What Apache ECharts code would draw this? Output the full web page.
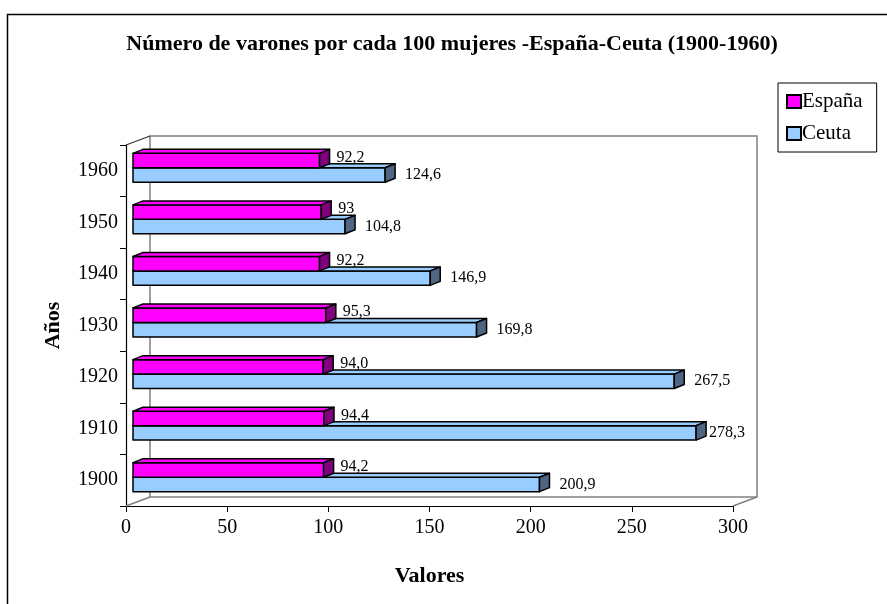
<!DOCTYPE html>
<html>
<head>
<meta charset="utf-8">
<script src="https://cdn.jsdelivr.net/npm/echarts@6/dist/echarts.min.js"></script>
<style>html,body{margin:0;padding:0;background:#fff;}#c{width:887px;height:604px;}</style>
</head>
<body>
<div id="c"></div>
<script>
const years = ['1900', '1910', '1920', '1930', '1940', '1950', '1960'];
const espana = [94.2, 94.4, 94.0, 95.3, 92.2, 93, 92.2];
const ceuta = [200.9, 278.3, 267.5, 169.8, 146.9, 104.8, 124.6];
const espanaLabels = ['94,2', '94,4', '94,0', '95,3', '92,2', '93', '92,2'];
const ceutaLabels = ['200,9', '278,3', '267,5', '169,8', '146,9', '104,8', '124,6'];

const FONT = '"Liberation Serif", "Times New Roman", serif';
const chart = echarts.init(document.getElementById('c'));

function makeRender(pos, front, side, top, labels) {
  return function (params, api) {
    const idx = params.dataIndex;
    const v = api.value(0), c = api.value(1);
    const base = api.coord([0, c]);
    const end = api.coord([v, c]);
    const band = api.size([0, 1])[1];
    const cs = params.coordSys;
    const dx = 7, dy = -3, d = 10, dh = 4;
    const H = band * 0.28;
    const cy = base[1] + dy;
    const y0 = pos === 0 ? cy - H : cy;
    const x0 = base[0] + dx, x1 = end[0] + dx;
    const st = { stroke: '#000', lineWidth: 1.5, lineJoin: 'round' };
    let tx, ty;
    if (pos === 0) { tx = x1 + d + 7; ty = y0 + H / 2 - 3; }
    else { tx = Math.min(x1 + d + 10, cs.x + cs.width - 24); ty = y0 + H / 2; }
    return {
      type: 'group',
      children: [
        { type: 'rect', shape: { x: x0, y: y0, width: x1 - x0, height: H }, style: Object.assign({ fill: front }, st) },
        { type: 'polygon', shape: { points: [[x0, y0], [x1, y0], [x1 + d, y0 - dh], [x0 + d, y0 - dh]] }, style: Object.assign({ fill: top }, st) },
        { type: 'polygon', shape: { points: [[x1, y0], [x1 + d, y0 - dh], [x1 + d, y0 + H - dh], [x1, y0 + H]] }, style: Object.assign({ fill: side }, st) },
        { type: 'text', x: tx, y: ty, style: { text: labels[idx], font: '16px ' + FONT, fill: '#000', textAlign: 'left', textVerticalAlign: 'middle' } }
      ]
    };
  };
}

function renderWall(params, api) {
  const cs = params.coordSys;
  const L = cs.x, T = cs.y, R = cs.x + cs.width, B = cs.y + cs.height;
  const ox = 24, oy = -9;
  const g = { stroke: '#808080', lineWidth: 1.5, fill: null };
  return {
    type: 'group',
    children: [
      { type: 'polyline', shape: { points: [[L + ox, B + oy], [L + ox, T + oy], [R + ox, T + oy], [R + ox, B + oy], [R, B]] }, style: g },
      { type: 'line', shape: { x1: L + ox, y1: B + oy, x2: R + ox, y2: B + oy }, style: g },
      { type: 'line', shape: { x1: L, y1: B, x2: L + ox, y2: B + oy }, style: g },
      { type: 'line', shape: { x1: L, y1: T, x2: L + ox, y2: T + oy }, style: { stroke: '#333', lineWidth: 1.2 } }
    ]
  };
}

const option = {
  backgroundColor: '#fff',
  animation: false,
  graphic: [
    { type: 'rect', shape: { x: 7.5, y: 14.5, width: 900, height: 620 }, style: { fill: null, stroke: '#000', lineWidth: 1.5 }, z: -10 },
    { type: 'text', x: 452, y: 44, style: { text: 'Número de varones por cada 100 mujeres -España-Ceuta (1900-1960)', font: 'bold 22px ' + FONT, fill: '#000', textAlign: 'center', textVerticalAlign: 'middle' } }
  ],
  legend: {
    data: ['España', 'Ceuta'],
    orient: 'vertical',
    left: 778, top: 83,
    itemWidth: 14, itemHeight: 13, itemGap: 11,
    padding: [8, 14, 8, 8],
    borderColor: '#000', borderWidth: 1,
    icon: 'rect',
    textStyle: { fontFamily: FONT, fontSize: 21, color: '#000', padding: [0, 0, 0, -4] }
  },
  grid: { left: 126, right: 154, top: 145, bottom: 98, containLabel: false },
  xAxis: {
    type: 'value', min: 0, max: 300, interval: 50,
    name: 'Valores', nameLocation: 'middle', nameGap: 59,
    nameTextStyle: { fontFamily: FONT, fontSize: 22, fontWeight: 'bold', color: '#000' },
    axisLine: { show: true, lineStyle: { color: '#000', width: 1.2 } },
    axisTick: { show: true, length: 6, lineStyle: { color: '#000' } },
    axisLabel: { fontFamily: FONT, fontSize: 20, color: '#000', margin: 12 },
    splitLine: { show: false }
  },
  yAxis: {
    type: 'category', data: years,
    name: 'Años', nameLocation: 'middle', nameGap: 62, nameRotate: 90,
    nameTextStyle: { fontFamily: FONT, fontSize: 22, fontWeight: 'bold', color: '#000' },
    axisLine: { show: true, lineStyle: { color: '#000', width: 1.2 } },
    axisTick: { show: true, length: 6, lineStyle: { color: '#000' } },
    axisLabel: { fontFamily: FONT, fontSize: 20, color: '#000', margin: 8 },
    splitLine: { show: false }
  },
  series: [
    { type: 'custom', name: 'wall', silent: true, renderItem: renderWall, data: [[0, 0]], encode: { x: 0, y: 1 }, z: 1 },
    {
      type: 'custom', name: 'Ceuta', renderItem: makeRender(1, '#99CCFF', '#4F6584', '#99CCFF', ceutaLabels),
      itemStyle: { color: '#99CCFF', borderColor: '#000', borderWidth: 1 },
      data: ceuta.map((v, i) => [v, i]), encode: { x: 0, y: 1 }, z: 2
    },
    {
      type: 'custom', name: 'España', renderItem: makeRender(0, '#FF00FF', '#800080', '#FF00FF', espanaLabels),
      itemStyle: { color: '#FF00FF', borderColor: '#000', borderWidth: 1 },
      data: espana.map((v, i) => [v, i]), encode: { x: 0, y: 1 }, z: 3
    }
  ]
};
chart.setOption(option);
</script>
</body>
</html>
